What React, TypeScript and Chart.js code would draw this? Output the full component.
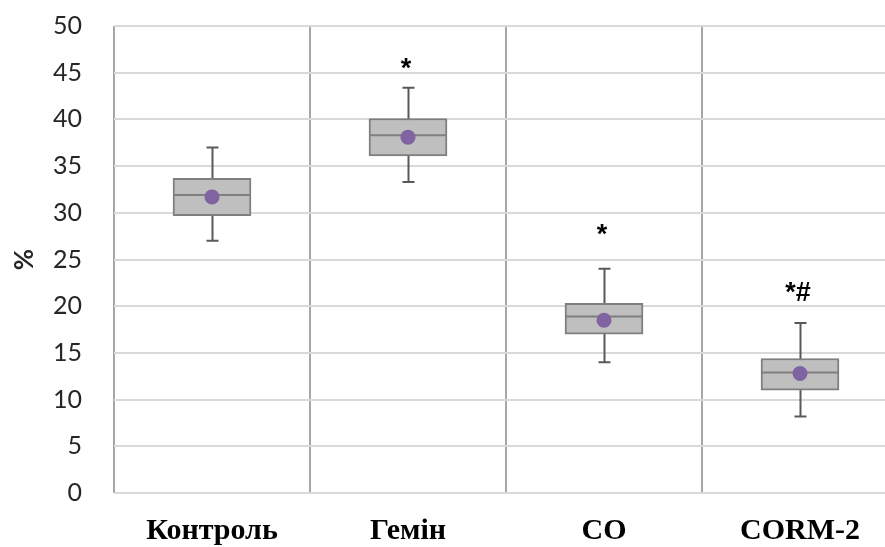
import React, { useEffect, useRef } from "react";
import { Chart, registerables } from "chart.js";

Chart.register(...registerables);

const categories = ["Контроль", "Гемін", "CO", "CORM-2"];
const whiskerLow = [27.0, 33.3, 14.0, 8.2];
const q1 = [29.7, 36.1, 17.0, 11.0];
const medians = [31.9, 38.3, 18.9, 12.9];
const q3 = [33.7, 40.1, 20.3, 14.4];
const whiskerHigh = [37.0, 43.4, 24.0, 18.2];
const means = [31.7, 38.1, 18.5, 12.8];
const markLabels = ["", "*", "*", "*#"];
const markValues = [0, 46.0, 28.2, 22.0];
const yMin = 0;
const yMax = 50;
const yStep = 5;

const boxPlugin = {
  id: "boxExtras",
  beforeDatasetsDraw(chart: any) {
    const { ctx, scales } = chart;
    const x = scales.x;
    const y = scales.y;
    ctx.save();
    ctx.strokeStyle = "#595959";
    ctx.lineWidth = 2;
    for (let i = 0; i < categories.length; i++) {
      const cx = Math.round(x.getPixelForValue(i)) + 0.5;
      const top = y.getPixelForValue(whiskerHigh[i]);
      const bot = y.getPixelForValue(whiskerLow[i]);
      ctx.beginPath();
      ctx.moveTo(cx, top);
      ctx.lineTo(cx, bot);
      ctx.moveTo(cx - 6, top);
      ctx.lineTo(cx + 6, top);
      ctx.moveTo(cx - 6, bot);
      ctx.lineTo(cx + 6, bot);
      ctx.stroke();
    }
    ctx.restore();
  },
  afterDatasetDraw(chart: any, args: any) {
    if (args.index !== 1) return;
    const { ctx, scales } = chart;
    const x = scales.x;
    const y = scales.y;
    const meta = chart.getDatasetMeta(1);
    ctx.save();
    ctx.strokeStyle = "#7f7f7f";
    ctx.lineWidth = 2;
    for (let i = 0; i < categories.length; i++) {
      const bar = meta.data[i];
      const half = bar.width / 2;
      const cx = x.getPixelForValue(i);
      const my = y.getPixelForValue(medians[i]);
      ctx.beginPath();
      ctx.moveTo(cx - half, my);
      ctx.lineTo(cx + half, my);
      ctx.stroke();
    }
    ctx.restore();
  },
  afterDraw(chart: any) {
    const { ctx, scales } = chart;
    const x = scales.x;
    const y = scales.y;
    ctx.save();
    ctx.fillStyle = "#000000";
    ctx.font = "bold 27px 'Liberation Sans'";
    ctx.textAlign = "center";
    ctx.textBaseline = "middle";
    for (let i = 0; i < categories.length; i++) {
      if (!markLabels[i]) continue;
      ctx.fillText(markLabels[i], x.getPixelForValue(i) - 2, y.getPixelForValue(markValues[i]) + 6);
    }
    ctx.restore();
  },
};

export default function App() {
  const ref = useRef<HTMLCanvasElement | null>(null);
  useEffect(() => {
    if (!ref.current) return;
    const chart = new Chart(ref.current, {
      type: "bar",
      data: {
        labels: categories,
        datasets: [
          {
            type: "line",
            label: "Mean",
            data: means,
            showLine: false,
            pointRadius: 7.5,
            pointBackgroundColor: "#8064a2",
            pointBorderWidth: 0,
            order: 1,
          } as any,
          {
            type: "bar",
            label: "Box",
            data: q1.map((v, i) => [v, q3[i]]),
            backgroundColor: "#bfbfbf",
            borderColor: "#7f7f7f",
            borderWidth: 2,
            borderSkipped: false,
            barThickness: 78,
            order: 2,
          } as any,
        ],
      },
      options: {
        responsive: false,
        animation: false,
        layout: { padding: { top: 26, right: 12, left: 0, bottom: 0 } },
        plugins: { legend: { display: false }, tooltip: { enabled: false } },
        scales: {
          x: {
            type: "category",
            offset: true,
            grid: { offset: true, color: "#a6a6a6", lineWidth: 2, drawTicks: false },
            border: { display: false },
            ticks: {
              color: "#000000",
              padding: 20,
              font: { family: "'Liberation Serif'", size: 30, weight: "bold" },
            },
            afterFit: (s: any) => {
              s.height = 54;
              s.paddingLeft = 0;
              s.paddingRight = 0;
            },
          },
          y: {
            min: yMin,
            max: yMax,
            grid: { color: "#d9d9d9", lineWidth: 2, drawTicks: false },
            border: { display: false },
            ticks: {
              stepSize: yStep,
              padding: 32,
              color: "#262626",
              font: { family: "Lato", size: 25 },
            },
            title: {
              display: true,
              text: "%",
              color: "#262626",
              font: { family: "Lato", size: 26, weight: "bold" },
              padding: { top: 9, bottom: 0 },
            },
            afterFit: (s: any) => {
              s.width = 114;
              s.paddingTop = 0;
              s.paddingBottom = 0;
            },
          },
        },
      },
      plugins: [boxPlugin],
    });
    return () => chart.destroy();
  }, []);
  return (
    <div style={{ position: "fixed", left: 0, top: 0, width: 885, height: 547, overflow: "hidden", background: "#fff" }}>
      <canvas ref={ref} width={910} height={547} style={{ width: 910, height: 547, display: "block" }} />
    </div>
  );
}
